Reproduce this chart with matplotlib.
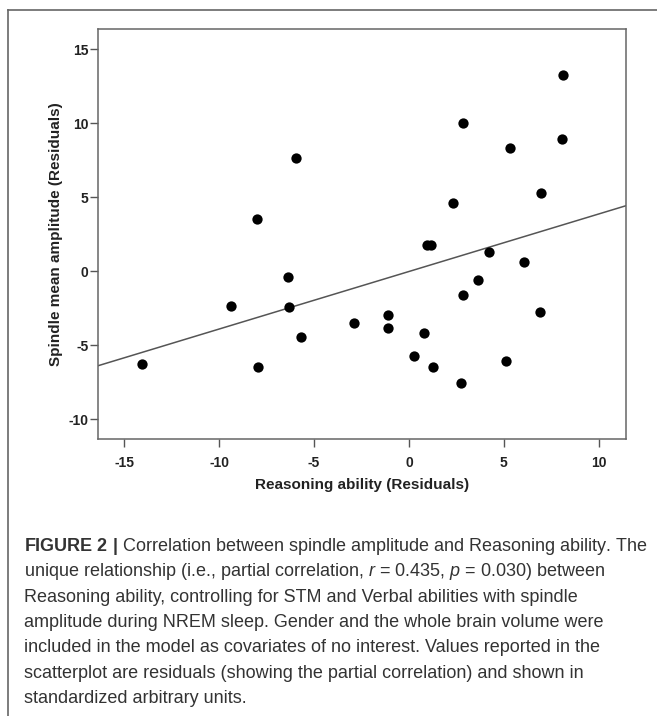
import numpy as np
import matplotlib
matplotlib.use('Agg')
import matplotlib.pyplot as plt
from matplotlib.lines import Line2D

# residuals
reasoning = [8.13, 2.83, 8.06, 5.34, -5.96, 6.98, 2.32, -7.99, 0.93, 1.15,
             4.20, 6.07, -6.40, 3.62, 2.83, -9.38, -6.33, 6.91, -1.08, -2.89,
             -1.08, 0.82, -5.70, -14.10, -7.97, 0.26, 1.26, 2.77, 5.10]
spindle = [13.29, 10.00, 8.94, 8.35, 7.67, 5.31, 4.61, 3.52, 1.76, 1.80,
           1.32, 0.64, -0.39, -0.58, -1.58, -2.34, -2.38, -2.75, -2.92, -3.48,
           -3.82, -4.16, -4.43, -6.26, -6.47, -5.74, -6.44, -7.56, -6.03]

xticks = [-15, -10, -5, 0, 5, 10]
yticks = [-10, -5, 0, 5, 10, 15]

caption = [
    r"$\mathbf{FIGURE\ 2\ |}$ Correlation between spindle amplitude and Reasoning ability. The",
    r"unique relationship (i.e., partial correlation, $\mathit{r}$ = 0.435, $\mathit{p}$ = 0.030) between",
    "Reasoning ability, controlling for STM and Verbal abilities with spindle",
    "amplitude during NREM sleep. Gender and the whole brain volume were",
    "included in the model as covariates of no interest. Values reported in the",
    "scatterplot are residuals (showing the partial correlation) and shown in",
    "standardized arbitrary units.",
]

plt.rcParams['font.family'] = ['Liberation Sans', 'DejaVu Sans']
plt.rcParams['axes.unicode_minus'] = False
plt.rcParams['mathtext.fontset'] = 'custom'
plt.rcParams['mathtext.rm'] = 'Liberation Sans'
plt.rcParams['mathtext.it'] = 'Liberation Sans:italic'
plt.rcParams['mathtext.bf'] = 'Liberation Sans:bold'

W, H = 657, 716
fig = plt.figure(figsize=(W / 100, H / 100), dpi=100)
ax = fig.add_axes([98.3 / W, 1 - 439.3 / H, (625.5 - 98.3) / W, (439.3 - 29.3) / H])

ax.scatter(reasoning, spindle, s=55, color='black', zorder=3, linewidths=0)

xlim = (-16.38, 11.42)
ax.set_xlim(xlim)
ax.set_ylim(-11.35, 16.35)

# least squares line across the whole axis
b, a = np.polyfit(reasoning, spindle, 1)
xs = np.array(xlim)
ax.plot(xs, a + b * xs, color='#555555', lw=1.1, zorder=2)

ax.set_xticks(xticks)
ax.set_yticks(yticks)
for sp in ax.spines.values():
    sp.set_color('#666666')
    sp.set_linewidth(1.1)
ax.tick_params(axis='both', length=6, width=1.0, color='#555555',
               labelsize=10, labelcolor='#222222')
ax.tick_params(axis='y', pad=1)
ax.tick_params(axis='x', pad=6)
for lab in ax.get_xticklabels() + ax.get_yticklabels():
    lab.set_fontweight('bold')

ax.set_xlabel('Reasoning ability (Residuals)', fontsize=11, fontweight='bold',
              color='#222222', labelpad=6)
ax.set_ylabel('Spindle mean amplitude (Residuals)', fontsize=11, fontweight='bold',
              color='#222222', labelpad=4)

# caption lines
base = 551
for i, line in enumerate(caption):
    fig.text(24 / W, 1 - (base + i * 25.3) / H, line, fontsize=13,
             color='#333333', va='baseline', ha='left')

# frame of the figure panel (top and left edges only visible)
fig.add_artist(Line2D([8 / W, 1], [1 - 10 / H, 1 - 10 / H], color='#666666', lw=1.2))
fig.add_artist(Line2D([8 / W, 8 / W], [0, 1 - 10 / H], color='#666666', lw=1.2))

fig.savefig('out.png', dpi=100)
